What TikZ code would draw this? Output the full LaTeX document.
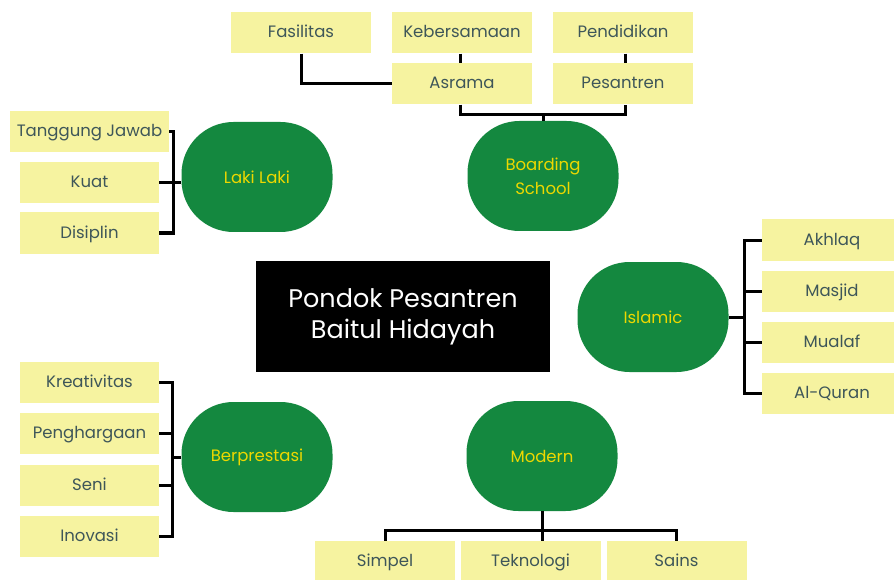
\documentclass[tikz,border=0pt]{standalone}
\usepackage{xcolor}
\usepackage{fontspec}
\setmainfont{Poppins}
\definecolor{leafyellow}{HTML}{F6F3A0}
\definecolor{leaftext}{HTML}{3E5659}
\definecolor{topicgreen}{HTML}{14883F}
\definecolor{topictext}{HTML}{EDD800}
\tikzset{
	leaf/.style={fill=leafyellow,text=leaftext,minimum width=140pt,minimum height=41pt,inner sep=0pt,text height=11.5pt,text depth=1.5pt,font=\fontsize{16.5}{19}\selectfont},
	topic/.style={fill=topicgreen,text=topictext,minimum width=151pt,minimum height=110pt,rounded corners=52pt,inner sep=0pt,align=center,font=\fontsize{16.5}{24}\selectfont},
	hub/.style={fill=black,text=white,minimum width=294pt,minimum height=111pt,inner sep=0pt,align=center,font=\fontsize{25.5}{31}\selectfont},
	link/.style={line width=3pt}
}
\begin{document}
\begin{tikzpicture}[x=1pt,y=-1pt]
		\useasboundingbox (0,0) rectangle (894,580);
		\clip (0,0) rectangle (894,580);
		\node[hub] (hub) at (403,316.5) {Pondok Pesantren\\Baitul Hidayah};
		\node[topic] (bs) at (543,176) {Boarding\\School};
		\node[topic] (laki) at (257,177) {Laki Laki};
		\node[topic] (isl) at (653,317) {Islamic};
		\node[topic] (ber) at (257,457) {Berprestasi};
		\node[topic] (mod) at (542,456) {Modern};
		\node[leaf] (fas) at (301,33) {Fasilitas};
		\node[leaf] (keb) at (462,33) {Kebersamaan};
		\node[leaf] (pen) at (623,33) {Pendidikan};
		\node[leaf] (asr) at (462,84) {Asrama};
		\node[leaf] (pes) at (623,84) {Pesantren};
		\node[leaf,minimum width=159pt] (tj) at (89.5,132) {Tanggung Jawab};
		\node[leaf,minimum width=139pt] (kuat) at (89.5,183) {Kuat};
		\node[leaf,minimum width=139pt] (dis) at (89.5,233) {Disiplin};
		\node[leaf] (akh) at (832,240) {Akhlaq};
		\node[leaf] (mas) at (832,291) {Masjid};
		\node[leaf] (mua) at (832,342.5) {Mualaf};
		\node[leaf] (alq) at (832,393.5) {Al-Quran};
		\node[leaf,minimum width=139pt] (kre) at (89.5,382.5) {Kreativitas};
		\node[leaf,minimum width=139pt] (pgh) at (89.5,433.5) {Penghargaan};
		\node[leaf,minimum width=139pt] (seni) at (89.5,485) {Seni};
		\node[leaf,minimum width=139pt] (ino) at (89.5,536.5) {Inovasi};
		\node[leaf] (sim) at (385,561.5) {Simpel};
		\node[leaf] (tek) at (530.5,561.5) {Teknologi};
		\node[leaf] (sai) at (676.5,561.5) {Sains};
		\coordinate (bsj) at ([yshift=6pt]bs.north);
		\coordinate (modj) at ([yshift=-19pt]mod.south);
		\draw[link] (fas.south) |- (asr.west);
		\draw[link] ([xshift=-2pt]keb.south) -- ([xshift=-2pt]asr.north);
		\draw[link] ([xshift=2pt]pen.south) -- ([xshift=2pt]pes.north);
		\draw[link] ([xshift=-2pt]asr.south) |- (bsj) -| ([xshift=2pt]pes.south);
		\draw[link] (bsj) -- (bs.north);
		\draw[link] (tj.east) -- ++(4,0) |- (dis.east);
		\draw[link] (kuat.east) -- (kuat.east -| laki.west);
		\draw[link] (akh.west) -- ++(-17,0) |- (alq.west);
		\draw[link] (mas.west) -- ++(-17,0);
		\draw[link] (mua.west) -- ++(-17,0);
		\draw[link] (isl.east) -- ++(17,0);
		\draw[link] (kre.east) -- ++(13,0) |- (ino.east);
		\draw[link] (pgh.east) -- ++(13,0);
		\draw[link] (seni.east) -- ++(13,0);
		\draw[link] (ber.west) -- ++(-10,0);
		\draw[link] (mod.south) -- (modj);
		\draw[link] (sim.north) |- (modj) -| (sai.north);
		\draw[link] (modj) -- (modj |- tek.north);
	\end{tikzpicture}
\end{document}
